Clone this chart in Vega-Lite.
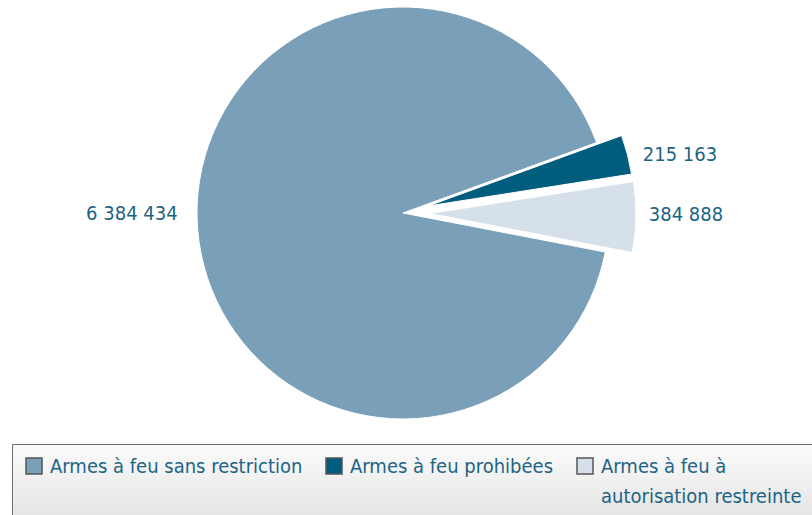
{
  "$schema": "https://vega.github.io/schema/vega-lite/v6.json",
  "width": 806,
  "height": 426,
  "autosize": {"type": "none"},
  "padding": {"left": 0, "top": 0, "right": 6, "bottom": 89},
  "background": "white",
  "config": {
    "view": {"stroke": null},
    "font": "'DejaVu Sans Condensed', 'Liberation Sans Narrow', Roboto, sans-serif",
    "locale": {"number": {"decimal": ",", "thousands": " ", "grouping": [3], "currency": ["", " $"]}}
  },
  "data": {"values": [
    {"type": "Armes à feu prohibées", "value": 215163, "order": 1},
    {"type": "Armes à feu à autorisation restreinte", "value": 384888, "order": 2},
    {"type": "Armes à feu sans restriction", "value": 6384434, "order": 3}
  ]},
  "transform": [
    {"stack": "value", "groupby": [], "sort": [{"field": "order"}], "as": ["v0", "v1"]},
    {"calculate": "(datum.v0 + datum.v1) / 2", "as": "mid"}
  ],
  "encoding": {
    "color": {
      "field": "type", "type": "nominal",
      "scale": {
        "domain": ["Armes à feu sans restriction", "Armes à feu prohibées", "Armes à feu à autorisation restreinte"],
        "range": ["#7a9fb8", "#005d7e", "#d6e0ea"]
      },
      "legend": {
        "title": null,
        "orient": "none",
        "legendX": 12,
        "legendY": 444,
        "direction": "horizontal",
        "columns": 3,
        "columnPadding": 20,
        "symbolType": "square",
        "symbolSize": 256,
        "symbolStrokeColor": "#555555",
        "symbolStrokeWidth": 1.5,
        "symbolOpacity": 1,
        "labelFont": "'DejaVu Sans Condensed', 'Liberation Sans Narrow', Roboto, sans-serif",
        "labelFontSize": 20,
        "labelColor": "#1d6484",
        "labelOffset": 6,
        "labelLimit": 400,
        "labelBaseline": "top",
        "labelExpr": "datum.label == 'Armes à feu à autorisation restreinte' ? ['Armes à feu à', 'autorisation restreinte'] : [datum.label, '']",
        "fillColor": "#f0f0f0",
        "strokeColor": "#6e6e6e",
        "padding": 12,
        "encode": {
          "labels": {"update": {"dy": {"value": -9}, "lineHeight": {"value": 30}}},
          "legend": {"update": {"fill": {"value": {"gradient": "linear", "x1": 0, "y1": 0, "x2": 0, "y2": 1, "stops": [{"offset": 0, "color": "#fbfbfb"}, {"offset": 1, "color": "#e4e4e4"}]}}}}
        }
      }
    }
  },
  "layer": [
    {
      "transform": [{"filter": "datum.order == 3"}],
      "mark": {"type": "arc", "radius": 206, "stroke": "white", "strokeWidth": 1},
      "encoding": {
        "theta": {"field": "v0", "type": "quantitative", "scale": {"domain": [0, 6984485], "range": [1.2217, 7.5049]}},
        "theta2": {"field": "v1"}
      }
    },
    {
      "transform": [{"filter": "datum.order == 1"}],
      "mark": {"type": "arc", "radius": 206, "stroke": "white", "strokeWidth": 1, "xOffset": 25, "yOffset": -7},
      "encoding": {
        "theta": {"field": "v0", "type": "quantitative"},
        "theta2": {"field": "v1"}
      }
    },
    {
      "transform": [{"filter": "datum.order == 2"}],
      "mark": {"type": "arc", "radius": 206, "stroke": "white", "strokeWidth": 1, "xOffset": 27, "yOffset": 0.5},
      "encoding": {
        "theta": {"field": "v0", "type": "quantitative"},
        "theta2": {"field": "v1"}
      }
    },
    {
      "transform": [{"filter": "datum.order == 3"}],
      "mark": {"type": "text", "radius": 272, "dy": -21, "fontSize": 20},
      "encoding": {
        "theta": {"field": "mid", "type": "quantitative"},
        "text": {"field": "value", "type": "quantitative", "format": ",d"},
        "color": {"value": "#1d6484"}
      }
    },
    {
      "transform": [{"filter": "datum.order == 1"}],
      "mark": {"type": "text", "radius": 286, "dy": 13, "fontSize": 20},
      "encoding": {
        "theta": {"field": "mid", "type": "quantitative"},
        "text": {"field": "value", "type": "quantitative", "format": ",d"},
        "color": {"value": "#1d6484"}
      }
    },
    {
      "transform": [{"filter": "datum.order == 2"}],
      "mark": {"type": "text", "radius": 283, "dy": -3, "fontSize": 20},
      "encoding": {
        "theta": {"field": "mid", "type": "quantitative"},
        "text": {"field": "value", "type": "quantitative", "format": ",d"},
        "color": {"value": "#1d6484"}
      }
    }
  ]
}
